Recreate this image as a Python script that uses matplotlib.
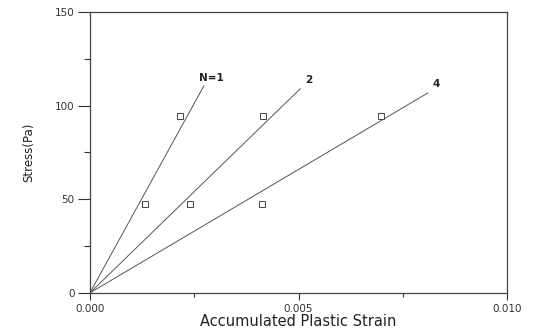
import matplotlib
matplotlib.use('Agg')
import matplotlib.pyplot as plt
from matplotlib.ticker import MultipleLocator

# fitted lines: start at origin, end point per N
line_labels = ['N=1', '2', '4']
line_end_x = [0.00273, 0.00504, 0.0081]
line_end_y = [110.5, 109.0, 106.8]

# measured points (same stress levels for each N)
point_stress = [47.5, 94.5]
point_strain = {
    'N=1': [0.00132, 0.00216],
    '2': [0.0024, 0.00415],
    '4': [0.00412, 0.00698],
}

fig = plt.figure(figsize=(5.35, 3.34), dpi=100)
ax = fig.add_axes([0.168, 0.123, 0.78, 0.841])

for lab, ex, ey in zip(line_labels, line_end_x, line_end_y):
    ax.plot([0, ex], [0, ey], color='#555555', lw=0.7)
    ax.plot(point_strain[lab], point_stress, 's', mfc='white', mec='#444444',
            ms=5, mew=0.7, linestyle='none')
    dx = -0.00012 if lab == 'N=1' else 0.00012
    ax.text(ex + dx, ey + 4.5, lab, fontsize=7.5, ha='left', va='center',
            fontweight='bold', color='#222222')

ax.set_xlim(0, 0.010)
ax.set_ylim(0, 150)
ax.xaxis.set_major_locator(MultipleLocator(0.005))
ax.xaxis.set_minor_locator(MultipleLocator(0.0025))
ax.yaxis.set_major_locator(MultipleLocator(50))
ax.yaxis.set_minor_locator(MultipleLocator(25))
ax.xaxis.set_major_formatter(plt.FuncFormatter(lambda v, p: '%.3f' % v))
ax.tick_params(which='both', direction='out', labelsize=7.5, colors='#333333', width=0.8)
ax.tick_params(axis='y', which='major', length=9, pad=2)
ax.tick_params(axis='y', which='minor', length=4)
ax.tick_params(axis='x', which='major', length=5, pad=3)
ax.tick_params(axis='x', which='minor', length=3)
for s in ax.spines.values():
    s.set_color('#444444')
    s.set_linewidth(0.9)

ax.set_xlabel('Accumulated Plastic Strain', fontsize=10.5, labelpad=0, color='#222222')
ax.set_ylabel('Stress(Pa)', fontsize=8.5, labelpad=14, color='#222222')

fig.savefig('out.png', dpi=100)
